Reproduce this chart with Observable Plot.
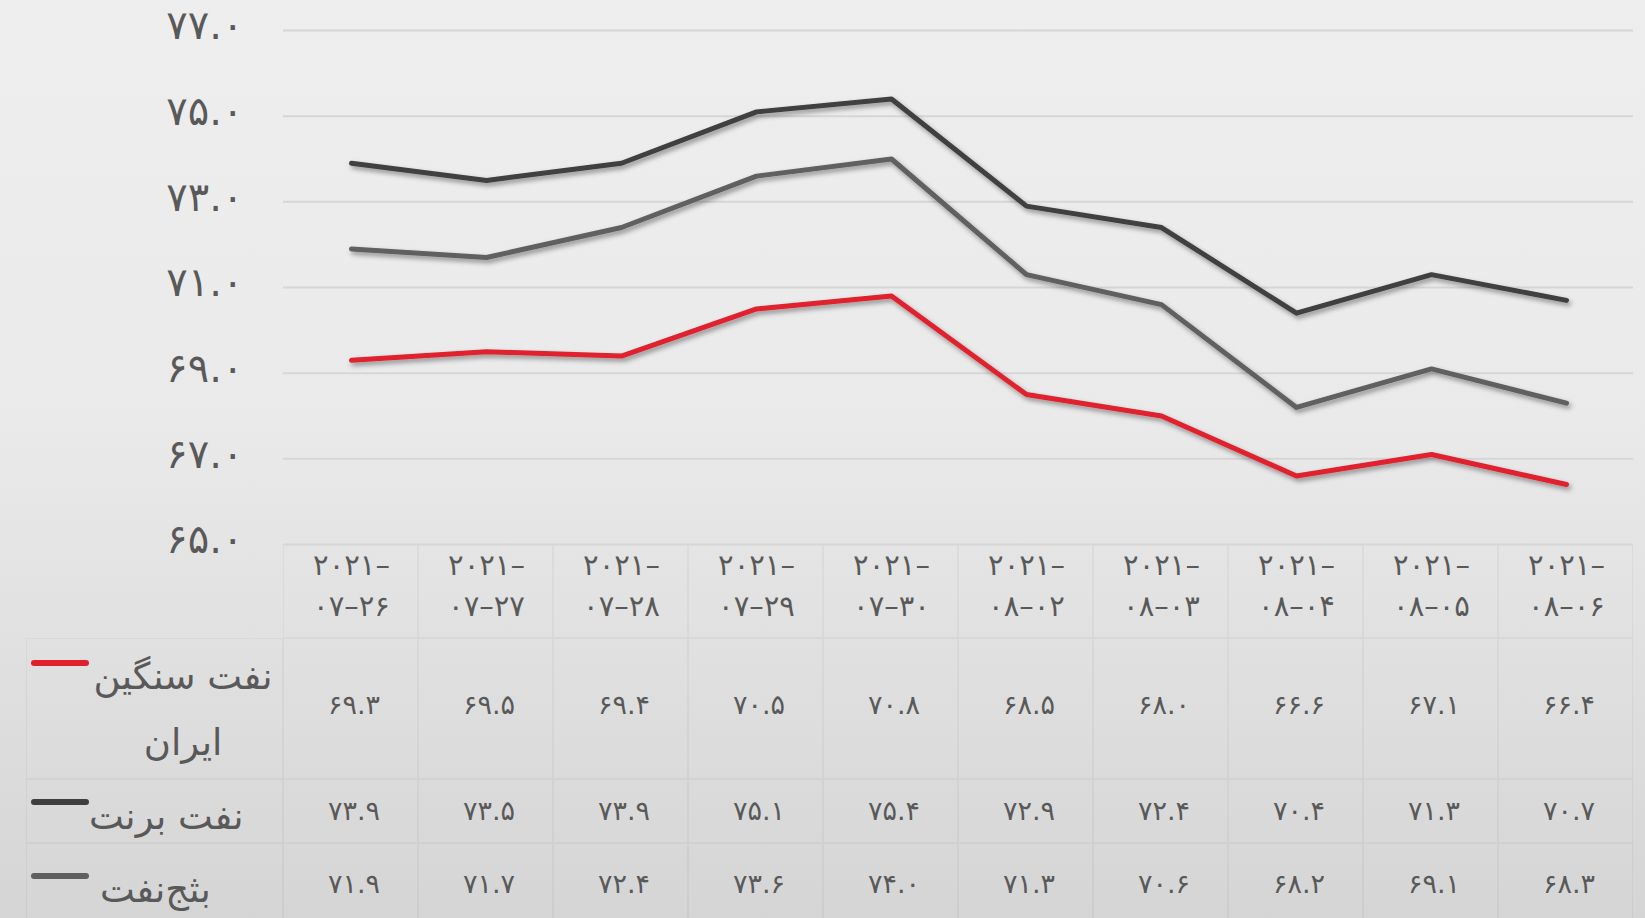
<!DOCTYPE html>
<html>
<head>
<meta charset="utf-8">
<script src="https://cdn.jsdelivr.net/npm/d3@7"></script>
<script src="https://cdn.jsdelivr.net/npm/@observablehq/plot@0.6"></script>
<style>
  html, body { margin: 0; padding: 0; }
  body {
    width: 1645px; height: 918px; overflow: hidden;
    background: linear-gradient(to bottom, #eeeeee 0%, #eaeaea 45%, #d5d5d5 100%);
    font-family: "DejaVu Sans", sans-serif; color: #595959;
  }
  #wrap { position: relative; width: 1645px; height: 918px; }
  #grid, #legend, #values { position: absolute; left: 0; top: 0; }
  #chart { position: absolute; left: 0; top: 0; }
  .cell { position: absolute; box-sizing: border-box; border: 1.5px solid rgba(0,0,0,0.035); }
  .key { position: absolute; height: 6px; border-radius: 3px; }
  .lab { position: absolute; direction: rtl; font-size: 37px; white-space: nowrap; text-align: center; }
  .val { position: absolute; text-align: center; font-size: 27px; letter-spacing: 7px; direction: ltr; }
  g[aria-label="y-axis tick label"] text { letter-spacing: 4px; }
  g[aria-label="x-axis tick label"] text { letter-spacing: 6px; }
</style>
</head>
<body>
<div id="wrap">
  <div id="grid"></div>
  <div id="chart"></div>
  <div id="legend"></div>
  <div id="values"></div>
</div>
<script>
// ---- data ----
const dates = ["2021-07-26","2021-07-27","2021-07-28","2021-07-29","2021-07-30","2021-08-02","2021-08-03","2021-08-04","2021-08-05","2021-08-06"];
const iranHeavy = [69.3, 69.5, 69.4, 70.5, 70.8, 68.5, 68.0, 66.6, 67.1, 66.4];
const brent     = [73.9, 73.5, 73.9, 75.1, 75.4, 72.9, 72.4, 70.4, 71.3, 70.7];
const wti       = [71.9, 71.7, 72.4, 73.6, 74.0, 71.3, 70.6, 68.2, 69.1, 68.3];
const seriesNames = ["نفت سنگین ایران", "نفت برنت", "بثج\u200cنفت"];
const seriesColors = ["#e0202e", "#3f3f3f", "#606060"];
const yTicks = [65, 67, 69, 71, 73, 75, 77];

// ---- helpers ----
const faDigits = "۰۱۲۳۴۵۶۷۸۹";
const fa = s => String(s).replace(/\d/g, d => faDigits[d]);
const fa1 = v => fa(v.toFixed(1));
const dateLabel = d => { const [y, m, dd] = d.split("-"); return fa(y) + "–\n" + fa(m) + "–" + fa(dd); };

const seriesValues = [iranHeavy, brent, wti];
const rows = [];
seriesValues.forEach((vals, si) => vals.forEach((v, i) => rows.push({series: seriesNames[si], date: dates[i], value: v})));

// ---- layout ----
const W = 1645, H = 640;
const PL = 283, PR = 1633, PT = 30, PB = 544;

const chart = Plot.plot({
  width: W, height: H,
  marginLeft: PL, marginRight: W - PR, marginTop: PT, marginBottom: H - PB,
  style: {background: "transparent", color: "#595959", fontFamily: "'DejaVu Sans', sans-serif", overflow: "visible"},
  x: {type: "point", domain: dates, padding: 0.5, label: null},
  y: {domain: [65, 77], label: null},
  marks: [
    Plot.ruleY(yTicks, {stroke: "#d6d6d6", strokeWidth: 2}),
    Plot.axisY({ticks: yTicks, tickFormat: fa1, tickSize: 0, tickPadding: 40, fontSize: 40, dy: -4, fill: "#595959", label: null}),
    Plot.axisX({tickFormat: dateLabel, tickSize: 0, tickPadding: 2, fontSize: 29, lineHeight: 1.4, fill: "#595959", label: null}),
    Plot.line(rows.filter(d => d.series === seriesNames[1]), {x: "date", y: "value", stroke: seriesColors[1], strokeWidth: 5}),
    Plot.line(rows.filter(d => d.series === seriesNames[2]), {x: "date", y: "value", stroke: seriesColors[2], strokeWidth: 5}),
    Plot.line(rows.filter(d => d.series === seriesNames[0]), {x: "date", y: "value", stroke: seriesColors[0], strokeWidth: 5})
  ]
});

// drop shadow on lines
const ns = "http://www.w3.org/2000/svg";
const defs = document.createElementNS(ns, "defs");
defs.innerHTML = '<filter id="shd" x="-5%" y="-20%" width="110%" height="140%"><feDropShadow dx="2" dy="3" stdDeviation="2.4" flood-color="#000" flood-opacity="0.4"/></filter>';
chart.insertBefore(defs, chart.firstChild);
chart.querySelectorAll('g[aria-label="line"]').forEach(g => g.setAttribute("filter", "url(#shd)"));
document.getElementById("chart").appendChild(chart);

// ---- data table below chart ----
const colW = (PR - PL) / dates.length;
const rowTops = [544, 638, 779, 843];
const rowBots = [638, 779, 843, 930];
const grid = document.getElementById("grid");
function cell(x, y, w, h) {
  const d = document.createElement("div");
  d.className = "cell";
  Object.assign(d.style, {left: x + "px", top: y + "px", width: w + "px", height: h + "px"});
  grid.appendChild(d);
}
for (let r = 0; r < 4; r++) {
  const h = rowBots[r] - rowTops[r];
  if (r > 0) cell(26, rowTops[r], PL - 26, h);
  for (let c = 0; c < dates.length; c++) cell(PL + c * colW, rowTops[r], colW, h);
}

// legend column
const legend = document.getElementById("legend");
const keyY = [660, 799, 873];
const labTop = [644, 795, 868];
const labLeft = [88, 89, 100];
const labWidth = [190, null, null];
seriesNames.forEach((name, i) => {
  const k = document.createElement("div");
  k.className = "key";
  Object.assign(k.style, {left: "31px", top: keyY[i] + "px", width: "58px", background: seriesColors[i]});
  legend.appendChild(k);
  const t = document.createElement("div");
  t.className = "lab";
  t.textContent = name;
  Object.assign(t.style, {left: labLeft[i] + "px", top: labTop[i] + "px", lineHeight: i === 0 ? "66px" : "44px"});
  if (labWidth[i]) { t.style.width = labWidth[i] + "px"; t.style.whiteSpace = "normal"; }
  legend.appendChild(t);
});

// values
const values = document.getElementById("values");
const valCenters = [705, 811, 884];
seriesValues.forEach((vals, si) => {
  vals.forEach((v, i) => {
    const t = document.createElement("div");
    t.className = "val";
    t.textContent = fa1(v);
    Object.assign(t.style, {left: (PL + i * colW) + "px", width: colW + "px", top: (valCenters[si] - 18) + "px", lineHeight: "36px", paddingLeft: "7px", boxSizing: "border-box"});
    values.appendChild(t);
  });
});
</script>
</body>
</html>
